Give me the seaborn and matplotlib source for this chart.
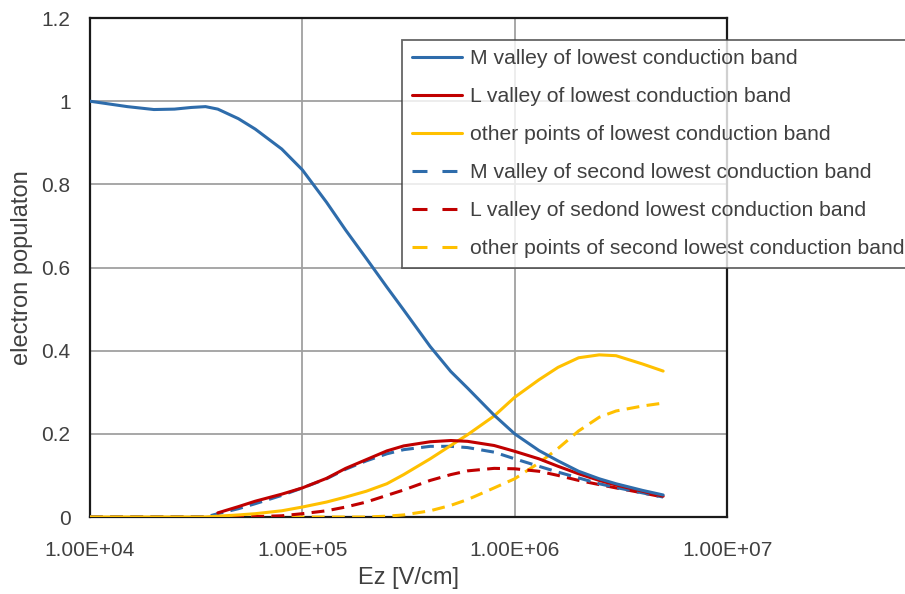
import numpy as np
import pandas as pd
import seaborn as sns
import matplotlib.pyplot as plt
from matplotlib.lines import Line2D

# electric field values (V/cm)
ez = [1e4, 1.5e4, 2e4, 2.5e4, 3e4, 3.5e4, 4e4, 5e4, 6e4, 8e4, 1e5, 1.3e5, 1.6e5, 2e5,
      2.5e5, 3e5, 4e5, 5e5, 6e5, 8e5, 1e6, 1.3e6, 1.6e6, 2e6, 2.5e6, 3e6, 4e6, 5e6]

m_lowest = [1.0, 0.987, 0.980, 0.981, 0.985, 0.987, 0.981, 0.958, 0.933, 0.885, 0.835,
            0.757, 0.69, 0.622, 0.553, 0.498, 0.41, 0.35, 0.31, 0.245, 0.20, 0.16,
            0.135, 0.11, 0.092, 0.08, 0.064, 0.053]
# L valley of lowest band only starts at 4e4
ez_l = ez[6:]
l_lowest = [0.01, 0.025, 0.038, 0.055, 0.07, 0.093, 0.117, 0.138, 0.159, 0.171,
            0.181, 0.184, 0.182, 0.172, 0.158, 0.14, 0.122, 0.104, 0.088, 0.077,
            0.062, 0.05]
other_lowest = [0.0, 0.0, 0.0, 0.0, 0.0, 0.0, 0.002, 0.005, 0.008, 0.015, 0.024, 0.036,
                0.048, 0.062, 0.08, 0.102, 0.14, 0.172, 0.198, 0.243, 0.288, 0.33,
                0.36, 0.383, 0.39, 0.388, 0.368, 0.351]
m_second = [0.0, 0.0, 0.0, 0.0, 0.0, 0.0, 0.008, 0.02, 0.032, 0.052, 0.07, 0.092,
            0.115, 0.135, 0.152, 0.162, 0.17, 0.17, 0.167, 0.156, 0.14, 0.122, 0.108,
            0.094, 0.08, 0.071, 0.058, 0.048]
l_second = [0.0, 0.0, 0.0, 0.0, 0.0, 0.0, 0.0, 0.0, 0.001, 0.003, 0.008, 0.015, 0.024,
            0.036, 0.052, 0.065, 0.088, 0.102, 0.111, 0.117, 0.116, 0.11, 0.10, 0.088,
            0.078, 0.07, 0.058, 0.048]
other_second = [0.0, 0.0, 0.0, 0.0, 0.0, 0.0, 0.0, 0.0, 0.0, 0.0, 0.0, 0.0, 0.0, 0.0,
                0.002, 0.005, 0.015, 0.028, 0.042, 0.07, 0.092, 0.13, 0.165, 0.207,
                0.24, 0.255, 0.267, 0.274]

labels = ['M valley of lowest conduction band',
          'L valley of lowest conduction band',
          'other points of lowest conduction band',
          'M valley of second lowest conduction band',
          'L valley of sedond lowest conduction band',
          'other points of second lowest conduction band']
colors = ['#2E6CAB', '#C00000', '#FFC000', '#2E6CAB', '#C00000', '#FFC000']

xticks = [1e4, 1e5, 1e6, 1e7]
xticklabels = ['1.00E+04', '1.00E+05', '1.00E+06', '1.00E+07']
yticks = [0, 0.2, 0.4, 0.6, 0.8, 1.0, 1.2]
yticklabels = ['0', '0.2', '0.4', '0.6', '0.8', '1', '1.2']

sns.set_style('white')
plt.rcParams['font.family'] = ['Liberation Sans', 'DejaVu Sans']
txt = '#404040'
lw = 2.2

fig = plt.figure(figsize=(9.05, 5.94), dpi=100)
ax = fig.add_axes([0.0994, 0.1296, 0.7040, 0.8400])

series = [(ez, m_lowest), (ez_l, l_lowest), (ez, other_lowest),
          (ez, m_second), (ez, l_second), (ez, other_second)]
handles = []
for i, ((xs, ys), label, color) in enumerate(zip(series, labels, colors)):
    df = pd.DataFrame({'ez': xs, 'pop': ys})
    dashed = i >= 3
    sns.lineplot(data=df, x='ez', y='pop', ax=ax, color=color, linewidth=lw,
                 linestyle='--' if dashed else '-', zorder=3 + (5 - i) * 0.1)
    if dashed:
        ax.lines[-1].set_dashes((4.2, 2.4))
    h = Line2D([], [], color=color, linewidth=lw, linestyle='--' if dashed else '-')
    if dashed:
        h.set_dashes((4.9, 4.9))
    handles.append(h)

ax.set_xscale('log')
ax.set_xlim(1e4, 1e7)
ax.set_ylim(0, 1.2)
ax.set_xticks(xticks)
ax.set_xticklabels(xticklabels)
ax.minorticks_off()
ax.set_yticks(yticks)
ax.set_yticklabels(yticklabels)
ax.tick_params(length=0, labelsize=15, labelcolor=txt)
ax.tick_params(axis='x', pad=17)
ax.tick_params(axis='y', pad=14)
ax.grid(True, color='#A0A0A0', linewidth=1.3)
ax.set_axisbelow(True)
for s in ax.spines.values():
    s.set_color('#1a1a1a')
    s.set_linewidth(1.6)
    s.set_visible(True)

ax.set_xlabel('Ez [V/cm]', fontsize=17, color=txt, labelpad=5)
ax.set_ylabel('electron populaton', fontsize=17, color=txt, labelpad=6)

leg = fig.legend(handles, labels, loc='upper left', bbox_to_anchor=(0.4445, 0.933),
                 fontsize=15.2, frameon=True, fancybox=False, handlelength=2.4,
                 handletextpad=0.35, labelspacing=0.9, borderpad=0.45,
                 borderaxespad=0)
leg.get_frame().set_edgecolor('#404040')
leg.get_frame().set_linewidth(1.3)
for t in leg.get_texts():
    t.set_color(txt)

fig.savefig('out.png', dpi=100)
